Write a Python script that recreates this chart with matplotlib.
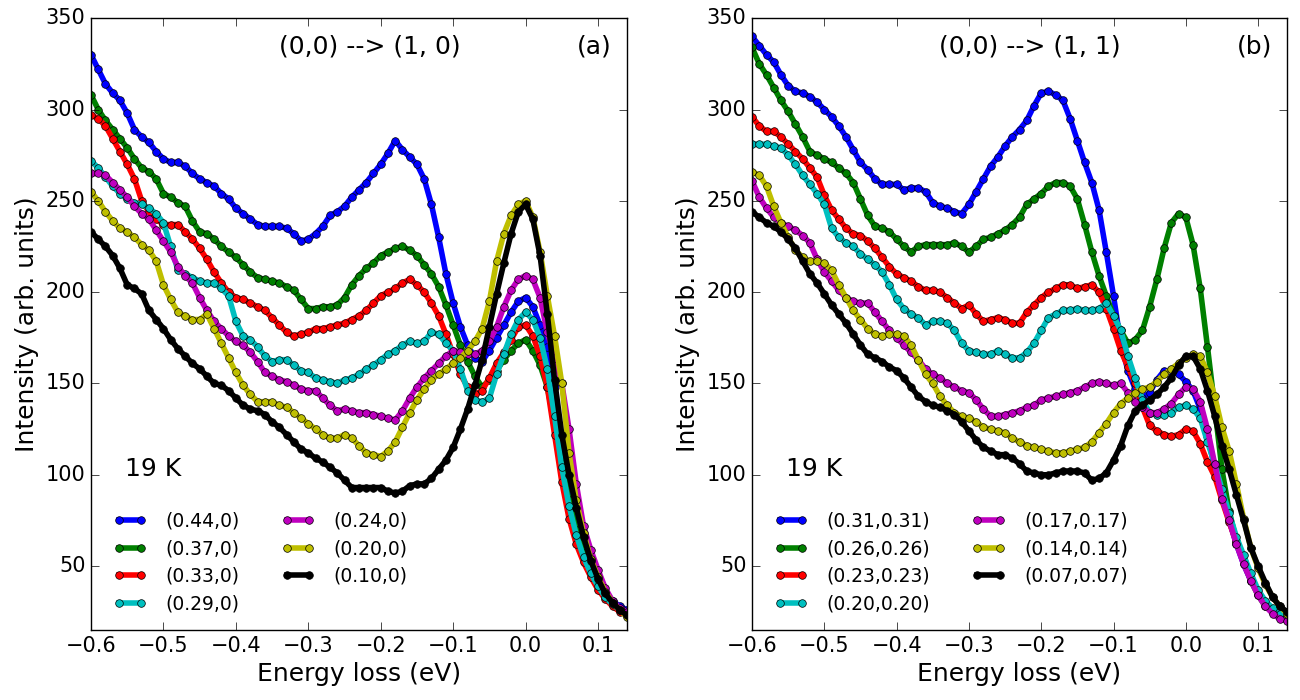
import numpy as np
import matplotlib
matplotlib.use('Agg')
import matplotlib.pyplot as plt

# energy grid (eV)
energy = [-0.60, -0.59, -0.58, -0.57, -0.56, -0.55, -0.54, -0.53, -0.52, -0.51,
          -0.50, -0.49, -0.48, -0.47, -0.46, -0.45, -0.44, -0.43, -0.42, -0.41,
          -0.40, -0.39, -0.38, -0.37, -0.36, -0.35, -0.34, -0.33, -0.32, -0.31,
          -0.30, -0.29, -0.28, -0.27, -0.26, -0.25, -0.24, -0.23, -0.22, -0.21,
          -0.20, -0.19, -0.18, -0.17, -0.16, -0.15, -0.14, -0.13, -0.12, -0.11,
          -0.10, -0.09, -0.08, -0.07, -0.06, -0.05, -0.04, -0.03, -0.02, -0.01,
          0.00, 0.01, 0.02, 0.03, 0.04, 0.05, 0.06, 0.07, 0.08, 0.09,
          0.10, 0.11, 0.12, 0.13, 0.14]

# (0,0) --> (1,0)
a_044 = [330, 322, 314, 309, 305, 298, 289, 285, 282, 277,
         273, 271, 271, 269, 265, 262, 260, 258, 254, 251,
         246, 243, 240, 237, 236, 236, 236, 235, 232, 228,
         229, 232, 236, 242, 244, 247, 252, 256, 260, 265,
         270, 276, 283, 278, 274, 270, 262, 248, 230, 210,
         194, 181, 171, 164, 162, 168, 175, 182, 189, 195,
         197, 192, 182, 170, 148, 118, 95, 78, 64, 52,
         43, 36, 31, 28, 26]
a_037 = [308, 300, 294, 289, 284, 279, 273, 268, 266, 262,
         254, 252, 249, 247, 239, 233, 232, 229, 225, 222,
         219, 215, 211, 208, 207, 206, 205, 203, 201, 196,
         191, 191, 192, 192, 193, 197, 204, 209, 213, 216,
         220, 222, 224, 225, 223, 220, 215, 210, 203, 193,
         182, 171, 162, 154, 148, 152, 157, 163, 168, 172,
         174, 168, 160, 148, 128, 106, 86, 70, 57, 47,
         39, 33, 29, 26, 24]
a_033 = [297, 295, 291, 284, 277, 270, 262, 250, 244, 240,
         237, 237, 237, 233, 229, 224, 218, 211, 205, 200,
         197, 196, 194, 192, 190, 186, 182, 178, 176, 177,
         178, 180, 180, 181, 182, 183, 185, 187, 190, 194,
         198, 200, 202, 205, 207, 204, 200, 194, 187, 177,
         166, 155, 148, 144, 146, 153, 161, 167, 174, 181,
         182, 176, 165, 148, 122, 96, 76, 62, 52, 44,
         37, 32, 28, 25, 23]
a_029 = [272, 268, 263, 258, 254, 251, 249, 248, 246, 243,
         238, 225, 212, 210, 208, 206, 205, 205, 202, 198,
         184, 176, 174, 170, 165, 162, 163, 163, 160, 157,
         156, 153, 152, 151, 150, 152, 153, 155, 158, 160,
         163, 166, 168, 171, 173, 172, 173, 178, 177, 172,
         168, 158, 146, 141, 140, 142, 155, 166, 177, 185,
         189, 185, 175, 158, 132, 104, 83, 67, 55, 46,
         39, 33, 29, 26, 24]
a_024 = [265, 265, 264, 260, 256, 252, 247, 243, 240, 234,
         228, 222, 214, 209, 205, 197, 190, 184, 180, 176,
         173, 171, 167, 162, 156, 154, 152, 151, 149, 147,
         146, 146, 142, 138, 135, 136, 135, 134, 134, 133,
         132, 131, 130, 135, 142, 148, 153, 157, 161, 165,
         168, 167, 166, 166, 168, 173, 181, 192, 201, 207,
         209, 207, 197, 178, 164, 150, 125, 95, 72, 59,
         48, 38, 31, 27, 25]
a_020 = [255, 250, 244, 239, 235, 233, 230, 226, 223, 217,
         204, 196, 189, 187, 185, 185, 188, 180, 172, 164,
         156, 149, 144, 140, 140, 140, 138, 137, 134, 131,
         128, 125, 122, 120, 120, 122, 120, 116, 112, 111,
         110, 113, 118, 126, 134, 141, 147, 152, 155, 158,
         161, 164, 168, 173, 180, 195, 217, 232, 242, 248,
         250, 241, 222, 198, 176, 150, 112, 86, 68, 54,
         44, 36, 30, 26, 22]
a_010 = [233, 229, 225, 220, 213, 204, 202, 199, 190, 185,
         180, 174, 169, 165, 161, 158, 154, 150, 149, 146,
         142, 138, 136, 135, 133, 129, 126, 122, 118, 114,
         112, 109, 107, 104, 101, 97, 93, 93, 93, 93,
         93, 91, 90, 91, 94, 95, 95, 98, 103, 108,
         115, 125, 136, 149, 163, 181, 199, 216, 232, 244,
         248, 240, 220, 188, 152, 122, 100, 82, 66, 53,
         43, 35, 30, 26, 23]

# (0,0) --> (1,1)
b_031 = [340, 335, 330, 326, 319, 313, 310, 309, 307, 304,
         300, 296, 291, 285, 278, 271, 267, 262, 259, 259,
         259, 256, 257, 257, 255, 249, 247, 246, 244, 243,
         248, 255, 262, 269, 274, 280, 285, 289, 294, 302,
         309, 310, 308, 305, 295, 283, 271, 260, 245, 222,
         198, 172, 157, 147, 142, 145, 152, 157, 157, 155,
         151, 146, 136, 121, 104, 88, 75, 62, 51, 42,
         35, 29, 25, 22, 21]
b_026 = [334, 325, 319, 312, 305, 299, 292, 285, 277, 275,
         273, 271, 268, 265, 260, 251, 242, 236, 235, 233,
         229, 225, 222, 225, 226, 226, 226, 226, 227, 225,
         222, 225, 229, 230, 232, 234, 237, 241, 248, 251,
         254, 258, 260, 260, 258, 251, 237, 222, 209, 198,
         187, 179, 172, 174, 179, 192, 207, 224, 238, 243,
         241, 226, 202, 170, 137, 103, 80, 64, 52, 42,
         34, 28, 25, 23, 22]
b_023 = [296, 291, 288, 288, 285, 281, 277, 273, 268, 263,
         253, 245, 240, 235, 232, 231, 228, 224, 219, 214,
         210, 208, 206, 203, 201, 201, 200, 197, 194, 191,
         193, 188, 184, 185, 186, 185, 183, 183, 189, 193,
         197, 200, 202, 204, 204, 202, 203, 204, 200, 191,
         180, 168, 159, 150, 137, 127, 124, 122, 121, 122,
         125, 124, 117, 107, 99, 86, 74, 63, 52, 43,
         35, 30, 26, 23, 21]
b_020 = [281, 281, 281, 280, 279, 275, 270, 264, 259, 254,
         248, 235, 230, 227, 225, 221, 218, 215, 211, 204,
         196, 191, 188, 186, 182, 184, 184, 183, 179, 172,
         168, 167, 166, 166, 168, 166, 164, 164, 167, 172,
         179, 186, 188, 190, 190, 191, 190, 190, 191, 194,
         187, 179, 165, 153, 141, 134, 133, 133, 134, 137,
         138, 136, 131, 118, 106, 92, 79, 66, 56, 46,
         37, 31, 27, 24, 22]
b_017 = [261, 252, 246, 241, 238, 236, 234, 231, 227, 218,
         211, 206, 201, 197, 195, 194, 194, 189, 184, 179,
         175, 171, 167, 163, 158, 155, 153, 150, 148, 146,
         145, 141, 136, 132, 132, 133, 134, 135, 137, 138,
         141, 142, 143, 144, 145, 146, 148, 150, 151, 150,
         149, 150, 145, 140, 137, 134, 134, 136, 139, 144,
         148, 147, 140, 125, 106, 87, 75, 62, 51, 42,
         34, 28, 24, 21, 20]
b_014 = [266, 264, 258, 247, 238, 230, 223, 219, 217, 217,
         216, 212, 204, 197, 190, 185, 180, 177, 176, 177,
         177, 176, 171, 163, 155, 150, 143, 138, 134, 132,
         131, 129, 126, 125, 124, 123, 120, 118, 116, 115,
         114, 113, 112, 112, 113, 114, 115, 118, 123, 128,
         134, 139, 142, 145, 147, 148, 151, 155, 158, 161,
         164, 166, 165, 156, 143, 126, 113, 95, 76, 60,
         49, 40, 33, 28, 24]
b_007 = [244, 241, 238, 236, 233, 229, 224, 217, 210, 205,
         199, 193, 188, 183, 177, 171, 166, 164, 162, 159,
         157, 153, 148, 143, 140, 138, 137, 135, 133, 129,
         124, 119, 115, 113, 111, 111, 109, 106, 102, 101,
         100, 100, 101, 102, 102, 102, 101, 97, 98, 101,
         108, 116, 127, 135, 138, 141, 144, 148, 153, 160,
         165, 165, 158, 146, 132, 116, 103, 89, 75, 60,
         50, 41, 33, 28, 25]

labels_a = ['(0.44,0)', '(0.37,0)', '(0.33,0)', '(0.29,0)',
            '(0.24,0)', '(0.20,0)', '(0.10,0)']
labels_b = ['(0.31,0.31)', '(0.26,0.26)', '(0.23,0.23)', '(0.20,0.20)',
            '(0.17,0.17)', '(0.14,0.14)', '(0.07,0.07)']
colors = ['b', 'g', 'r', 'c', 'm', 'y', 'k']

plt.style.use('classic')
plt.rcParams['font.family'] = ['DejaVu Sans']
plt.rcParams['savefig.facecolor'] = 'white'

fig = plt.figure(figsize=(13, 7), dpi=100, facecolor='white')
ax1 = fig.add_axes([0.07, 0.1, 0.4123, 0.874])
ax2 = fig.add_axes([0.5785, 0.1, 0.4115, 0.874])

panels = [
    (ax1, [a_044, a_037, a_033, a_029, a_024, a_020, a_010], labels_a,
     '(0,0) --> (1, 0)', '(a)'),
    (ax2, [b_031, b_026, b_023, b_020, b_017, b_014, b_007], labels_b,
     '(0,0) --> (1, 1)', '(b)'),
]

for ax, curves, labels, title, tag in panels:
    for y, c, lab in zip(curves, colors, labels):
        ax.plot(energy, y, color=c, lw=4, marker='o', ms=5.5,
                mec='k', mew=0.5, label=lab)
    ax.set_xlim(-0.6, 0.14)
    ax.set_ylim(15, 350)
    ax.set_xticks([-0.6, -0.5, -0.4, -0.3, -0.2, -0.1, 0.0, 0.1])
    ax.set_yticks([50, 100, 150, 200, 250, 300, 350])
    ax.tick_params(labelsize=15, length=6)
    ax.set_xlabel('Energy loss (eV)', fontsize=18)
    ax.set_ylabel('Intensity (arb. units)', fontsize=18)
    ax.text(0.52, 0.953, title, transform=ax.transAxes, fontsize=18,
            ha='center', va='center')
    ax.text(0.972, 0.953, tag, transform=ax.transAxes, fontsize=18,
            ha='right', va='center')
    ax.text(-0.553, 103, '19 K', fontsize=18, ha='left', va='center')
    ax.legend(loc='lower left', bbox_to_anchor=(0.01, 0.0), ncol=2,
              frameon=False, fontsize=13.5, numpoints=2, handlelength=1.8,
              handletextpad=1.0, columnspacing=2.2, labelspacing=0.45)

fig.savefig('out.png', dpi=100)
